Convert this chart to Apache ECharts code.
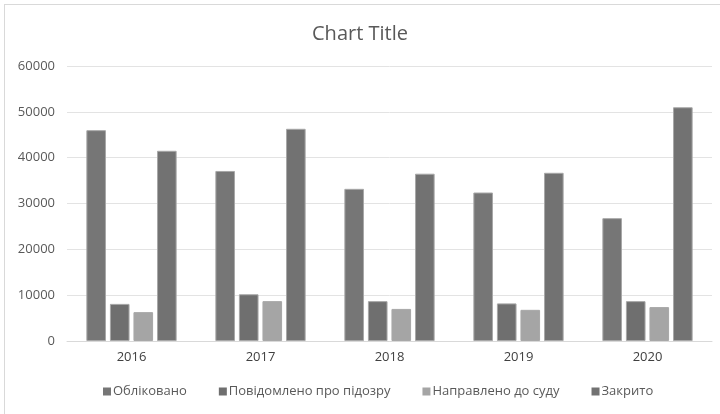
<!DOCTYPE html>
<html>
<head>
<meta charset="utf-8">
<script src="https://cdn.jsdelivr.net/npm/echarts@6/dist/echarts.min.js"></script>
<style>
  html, body { margin: 0; padding: 0; background: #fff; }
  #frame { position: absolute; left: 4px; top: 4px; width: 720px; height: 414px; border: 1px solid #d9d9d9; box-sizing: border-box; }
  #chart { position: absolute; left: 0; top: 0; width: 720px; height: 414px; }
</style>
</head>
<body>
<div id="frame"></div>
<div id="chart"></div>
<script>
var years = ['2016', '2017', '2018', '2019', '2020'];
var registeredData = [46000, 37100, 33200, 32400, 26800];   // Обліковано
var suspectedData = [8100, 10200, 8700, 8200, 8700];        // Повідомлено про підозру
var toCourtData = [6300, 8700, 7000, 6800, 7400];           // Направлено до суду
var closedData = [41500, 46300, 36500, 36700, 51000];       // Закрито
var yTicks = [0, 10000, 20000, 30000, 40000, 50000, 60000];

var fontName = "'Open Sans', sans-serif";

function barSeries(name, data, color){
    return {
        name: name,
        type: 'bar',
        data: data,
        barGap: '20%',
        barCategoryGap: '30%',
        itemStyle: {color: color, borderColor: '#a8a8a8', borderWidth: 1}
    };
}

var chart = echarts.init(document.getElementById('chart'));
chart.setOption({
    animation: false,
    title: {
        text: 'Chart Title',
        left: 'center',
        top: 19,
        textStyle: {color: '#595959', fontSize: 20, fontWeight: 'normal', fontFamily: fontName}
    },
    legend: {
        bottom: 11,
        left: 98,
        itemWidth: 8,
        itemHeight: 8,
        itemGap: 32,
        icon: 'rect',
        itemStyle: {borderWidth: 0},
        textStyle: {color: '#595959', fontSize: 13, fontFamily: fontName, padding: [0, 0, 0, -3]}
    },
    grid: {left: 67, right: 8, top: 66, bottom: 73},
    xAxis: {
        type: 'category',
        data: years,
        axisLine: {lineStyle: {color: '#d9d9d9'}},
        axisTick: {show: false},
        axisLabel: {color: '#404040', fontSize: 13, margin: 10, fontFamily: fontName}
    },
    yAxis: {
        type: 'value',
        min: yTicks[0],
        max: yTicks[yTicks.length - 1],
        interval: 10000,
        axisLine: {show: false},
        axisTick: {show: false},
        splitLine: {lineStyle: {color: '#e3e3e3'}},
        axisLabel: {
            color: '#595959', fontSize: 13, margin: 12, fontFamily: fontName,
            formatter: function(v){ return String(v); }
        }
    },
    series: [
        barSeries('Обліковано', registeredData, '#767676'),
        barSeries('Повідомлено про підозру', suspectedData, '#6f6f6f'),
        barSeries('Направлено до суду', toCourtData, '#a5a5a5'),
        barSeries('Закрито', closedData, '#727272')
    ]
});
</script>
</body>
</html>
